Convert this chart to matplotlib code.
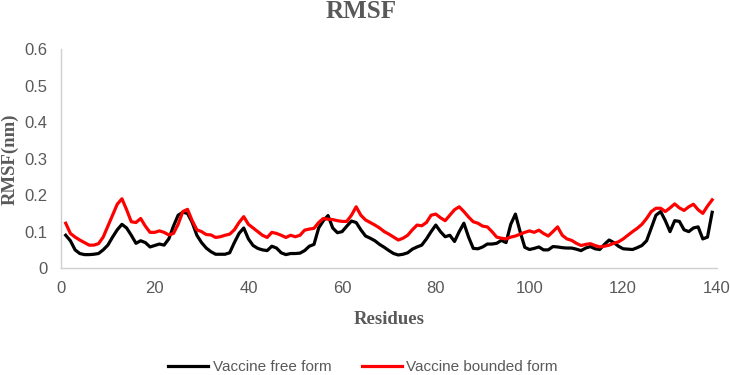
import matplotlib
matplotlib.use("Agg")
import matplotlib.pyplot as plt
from matplotlib.lines import Line2D

residues = list(range(1, 140))

free_form = [
    0.090, 0.075, 0.050, 0.040, 0.037, 0.037, 0.038, 0.040, 0.050, 0.063,
    0.085, 0.105, 0.120, 0.110, 0.090, 0.068, 0.075, 0.070, 0.058, 0.062,
    0.066, 0.063, 0.080, 0.115, 0.145, 0.153, 0.150, 0.125, 0.090, 0.070,
    0.055, 0.045, 0.038, 0.038, 0.038, 0.042, 0.070, 0.095, 0.110, 0.080,
    0.062, 0.054, 0.050, 0.048, 0.060, 0.055, 0.042, 0.037, 0.040, 0.040,
    0.041, 0.048, 0.060, 0.065, 0.110, 0.130, 0.144, 0.110, 0.097, 0.100,
    0.115, 0.129, 0.125, 0.105, 0.088, 0.082, 0.075, 0.065, 0.057, 0.048,
    0.040, 0.036, 0.038, 0.042, 0.052, 0.058, 0.063, 0.080, 0.100, 0.118,
    0.100, 0.086, 0.090, 0.073, 0.100, 0.123, 0.085, 0.054, 0.053, 0.058,
    0.066, 0.066, 0.068, 0.076, 0.070, 0.120, 0.148, 0.100, 0.057, 0.051,
    0.054, 0.058, 0.050, 0.050, 0.059, 0.058, 0.056, 0.055, 0.055, 0.052,
    0.048, 0.055, 0.059, 0.053, 0.051, 0.065, 0.077, 0.070, 0.060, 0.053,
    0.052, 0.051, 0.056, 0.062, 0.075, 0.110, 0.145, 0.155, 0.130, 0.100,
    0.130, 0.128, 0.105, 0.100, 0.110, 0.113, 0.080, 0.085, 0.153,
]

bounded_form = [
    0.123, 0.095, 0.085, 0.077, 0.070, 0.063, 0.063, 0.067, 0.085, 0.115,
    0.145, 0.175, 0.190, 0.160, 0.127, 0.125, 0.136, 0.115, 0.098, 0.098,
    0.102, 0.098, 0.091, 0.095, 0.120, 0.155, 0.161, 0.130, 0.105, 0.100,
    0.092, 0.091, 0.084, 0.086, 0.090, 0.093, 0.105, 0.125, 0.141, 0.120,
    0.110, 0.100, 0.090, 0.084, 0.098, 0.095, 0.090, 0.084, 0.090, 0.086,
    0.090, 0.104, 0.107, 0.109, 0.125, 0.136, 0.134, 0.133, 0.130, 0.128,
    0.128, 0.145, 0.168, 0.145, 0.132, 0.125, 0.118, 0.110, 0.100, 0.093,
    0.085, 0.077, 0.082, 0.090, 0.105, 0.118, 0.116, 0.125, 0.145, 0.148,
    0.138, 0.130, 0.145, 0.160, 0.168, 0.155, 0.140, 0.127, 0.123, 0.115,
    0.113, 0.100, 0.085, 0.082, 0.080, 0.085, 0.088, 0.093, 0.098, 0.102,
    0.098, 0.104, 0.095, 0.088, 0.100, 0.113, 0.090, 0.080, 0.076, 0.068,
    0.062, 0.065, 0.067, 0.062, 0.058, 0.060, 0.063, 0.068, 0.072, 0.080,
    0.090, 0.100, 0.109, 0.120, 0.136, 0.155, 0.164, 0.164, 0.155, 0.165,
    0.176, 0.165, 0.158, 0.168, 0.175, 0.160, 0.150, 0.170, 0.187,
]

x_ticks = [0, 20, 40, 60, 80, 100, 120, 140]
y_ticks = [0, 0.1, 0.2, 0.3, 0.4, 0.5, 0.6]
y_tick_labels = ["0", "0.1", "0.2", "0.3", "0.4", "0.5", "0.6"]

grey = "#595959"
serif = ["Liberation Serif", "DejaVu Serif"]
sans = ["Liberation Sans", "DejaVu Sans"]

fig = plt.figure(figsize=(7.3, 3.75), dpi=100)
ax = fig.add_axes([0.0836, 0.285, 0.8984, 0.584])

ax.plot(residues, free_form, color="black", lw=2.3, solid_joinstyle="round")
ax.plot(residues, bounded_form, color="#ff0000", lw=2.3, solid_joinstyle="round")

ax.set_xlim(0, 140)
ax.set_ylim(0, 0.6)
ax.set_xticks(x_ticks)
ax.set_yticks(y_ticks)
ax.set_yticklabels(y_tick_labels)
ax.tick_params(length=0, labelsize=12, colors=grey)
ax.tick_params(axis="x", pad=9)
ax.tick_params(axis="y", pad=10)
for lab in ax.get_xticklabels() + ax.get_yticklabels():
    lab.set_family(sans)

for s in ["top", "right"]:
    ax.spines[s].set_visible(False)
for s in ["left", "bottom"]:
    ax.spines[s].set_color("#d0d0d0")
    ax.spines[s].set_linewidth(1.0)

fig.text(361 / 730, 1 - 11 / 375, "RMSF", ha="center", va="center",
         fontsize=18, fontweight="bold", family=serif, color=grey)
fig.text(10 / 730, 1 - 159 / 375, "RMSF(nm)", ha="center", va="center",
         rotation=90, fontsize=13.5, fontweight="bold", family=serif, color=grey)
fig.text(389 / 730, 1 - 319 / 375, "Residues", ha="center", va="center",
         fontsize=13.5, fontweight="bold", family=serif, color=grey)

handles = [Line2D([], [], color="black", lw=2.3),
           Line2D([], [], color="#ff0000", lw=2.3)]
fig.legend(handles, ["Vaccine free form", "Vaccine bounded form"],
           loc="center", bbox_to_anchor=(363 / 730, 1 - 367 / 375), ncol=2,
           frameon=False, prop={"family": sans, "size": 11}, labelcolor=grey,
           handlelength=2.6, columnspacing=2.0, handletextpad=0.3,
           borderpad=0.0, borderaxespad=0.0)

fig.savefig("out.png", dpi=100)
